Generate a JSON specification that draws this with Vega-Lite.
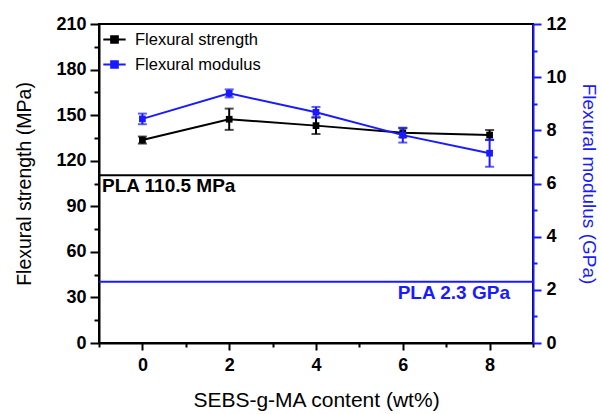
{
  "$schema": "https://vega.github.io/schema/vega-lite/v6.json",
  "width": 434,
  "height": 319,
  "autosize": "none",
  "padding": {"left": 99, "top": 24, "right": 68, "bottom": 71},
  "background": "white",
  "config": {
    "font": "Liberation Sans",
    "view": {"stroke": "black", "strokeWidth": 2},
    "axis": {"grid": false, "labelFont": "Liberation Sans", "titleFont": "Liberation Sans"}
  },
  "data": {
    "values": [
      {"content": 0, "strength": 133.6, "strength_err": 2.3, "modulus": 8.43, "modulus_err": 0.2},
      {"content": 2, "strength": 147.3, "strength_err": 7.0, "modulus": 9.39, "modulus_err": 0.15},
      {"content": 4, "strength": 143.1, "strength_err": 5.5, "modulus": 8.68, "modulus_err": 0.2},
      {"content": 6, "strength": 138.4, "strength_err": 3.0, "modulus": 7.82, "modulus_err": 0.28},
      {"content": 8, "strength": 136.9, "strength_err": 3.3, "modulus": 7.14, "modulus_err": 0.51}
    ]
  },
  "encoding": {
    "x": {
      "field": "content",
      "type": "quantitative",
      "scale": {"domain": [-1, 9], "nice": false, "zero": false},
      "axis": {
        "title": "SEBS-g-MA content (wt%)",
        "titleFontSize": 21,
        "titleFontWeight": "normal",
        "titleColor": "black",
        "titlePadding": 15,
        "values": [-1, 0, 1, 2, 3, 4, 5, 6, 7, 8, 9],
        "labelExpr": "datum.value % 2 === 0 ? datum.label : ''",
        "labelFontSize": 18,
        "labelFontWeight": "bold",
        "labelColor": "black",
        "labelPadding": 6,
        "labelFlush": false,
        "domainColor": "black",
        "domainWidth": 2,
        "tickColor": "black",
        "tickWidth": 2,
        "tickSize": {"condition": {"test": "datum.value % 2 === 0", "value": 7}, "value": 4}
      }
    }
  },
  "layer": [
    {
      "encoding": {
        "y": {
          "field": "strength",
          "type": "quantitative",
          "scale": {"domain": [0, 210], "nice": false},
          "axis": {
            "title": "Flexural strength (MPa)",
            "titleFontSize": 19.5,
            "titleFontWeight": "normal",
            "titleColor": "black",
            "titlePadding": 21,
            "values": [0, 15, 30, 45, 60, 75, 90, 105, 120, 135, 150, 165, 180, 195, 210],
            "labelExpr": "datum.value % 30 === 0 ? datum.label : ''",
            "labelFontSize": 18,
            "labelFontWeight": "bold",
            "labelColor": "black",
            "labelPadding": 4,
            "labelFlush": false,
            "domainColor": "black",
            "domainWidth": 2,
            "tickColor": "black",
            "tickWidth": 2,
            "tickSize": {"condition": {"test": "datum.value % 30 === 0", "value": 9}, "value": 5}
          }
        }
      },
      "layer": [
        {
          "data": {"values": [{"reference": "PLA 110.5 MPa", "level": 110.5, "at": -1}]},
          "layer": [
            {
              "mark": {"type": "rule", "color": "black", "strokeWidth": 2},
              "encoding": {"y": {"field": "level", "type": "quantitative"}, "x": {"value": 0}, "x2": {"value": 434}}
            },
            {
              "mark": {"type": "text", "align": "left", "baseline": "top", "dx": 3, "dy": 2, "fontSize": 19, "fontWeight": "bold", "color": "black", "font": "Liberation Sans"},
              "encoding": {
                "x": {"field": "at", "type": "quantitative"},
                "y": {"field": "level", "type": "quantitative"},
                "text": {"field": "reference"}
              }
            }
          ]
        },
        {
          "mark": {"type": "errorbar", "color": "black", "ticks": {"size": 9, "thickness": 2}, "rule": {"strokeWidth": 2}},
          "encoding": {"yError": {"field": "strength_err"}}
        },
        {
          "mark": {"type": "line", "strokeWidth": 2},
          "encoding": {
            "color": {
              "datum": "Flexural strength",
              "scale": {"domain": ["Flexural strength", "Flexural modulus"], "range": ["black", "#1a1aff"]},
              "legend": {
                "title": null,
                "orient": "top-left",
                "offset": 3,
                "padding": 0,
                "symbolType": "M-1,0H1M-0.3,-0.3H0.3V0.3H-0.3Z",
                "symbolSize": 500,
                "symbolStrokeWidth": 2,
                "labelFont": "Liberation Sans",
                "labelFontSize": 16.5,
                "labelColor": "black",
                "labelOffset": 8,
                "rowPadding": 4,
                "encode": {"symbols": {"update": {"fill": {"scale": "color", "field": "value"}}}}
              }
            }
          }
        },
        {
          "mark": {"type": "point", "shape": "square", "filled": true, "size": 45, "opacity": 1},
          "encoding": {"color": {"datum": "Flexural strength"}}
        }
      ]
    },
    {
      "encoding": {
        "y": {
          "field": "modulus",
          "type": "quantitative",
          "scale": {"domain": [0, 12], "nice": false},
          "axis": {
            "orient": "right",
            "title": "Flexural modulus (GPa)",
            "titleFontSize": 19,
            "titleFontWeight": "normal",
            "titleColor": "#1a1aff",
            "titlePadding": 12,
            "values": [0, 1, 2, 3, 4, 5, 6, 7, 8, 9, 10, 11, 12],
            "labelExpr": "datum.value % 2 === 0 ? datum.label : ''",
            "labelFontSize": 18,
            "labelFontWeight": "bold",
            "labelColor": "black",
            "labelPadding": 5,
            "labelFlush": false,
            "domainColor": "#1a1aff",
            "domainWidth": 2,
            "tickColor": "#1a1aff",
            "tickWidth": 2,
            "tickSize": {"condition": {"test": "datum.value % 2 === 0", "value": 8}, "value": 4}
          }
        }
      },
      "layer": [
        {
          "data": {"values": [{"reference": "PLA 2.3 GPa", "level": 2.3, "at": 8.47}]},
          "layer": [
            {
              "mark": {"type": "rule", "color": "#1a1aff", "strokeWidth": 2},
              "encoding": {"y": {"field": "level", "type": "quantitative"}, "x": {"value": 0}, "x2": {"value": 434}}
            },
            {
              "mark": {"type": "text", "align": "right", "baseline": "top", "dy": 2, "fontSize": 19, "fontWeight": "bold", "color": "#1a1aff", "font": "Liberation Sans"},
              "encoding": {
                "x": {"field": "at", "type": "quantitative"},
                "y": {"field": "level", "type": "quantitative"},
                "text": {"field": "reference"}
              }
            }
          ]
        },
        {
          "mark": {"type": "errorbar", "color": "#1a1aff", "ticks": {"size": 9, "thickness": 2}, "rule": {"strokeWidth": 2}},
          "encoding": {"yError": {"field": "modulus_err"}}
        },
        {
          "mark": {"type": "line", "strokeWidth": 2},
          "encoding": {"color": {"datum": "Flexural modulus"}}
        },
        {
          "mark": {"type": "point", "shape": "square", "filled": true, "size": 45, "opacity": 1},
          "encoding": {"color": {"datum": "Flexural modulus"}}
        }
      ]
    }
  ],
  "resolve": {"scale": {"y": "independent"}}
}
